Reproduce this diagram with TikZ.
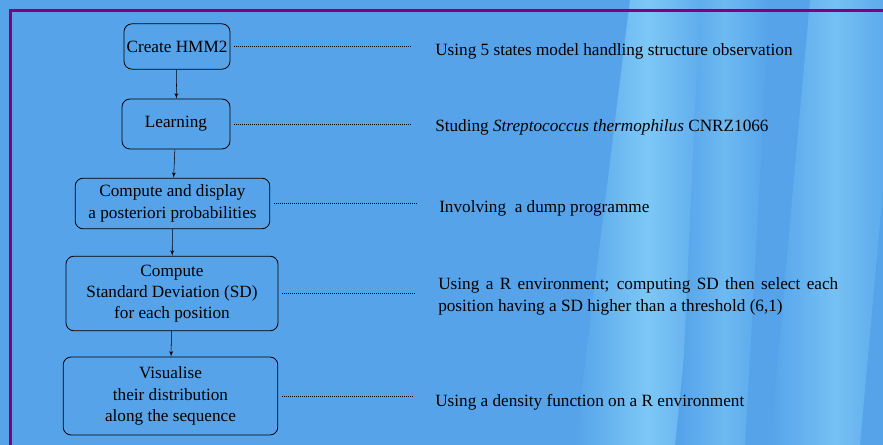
\documentclass[tikz,border=0pt]{standalone}
\usepackage{fontspec}
\setmainfont{Liberation Serif}
\usetikzlibrary{shapes,arrows,positioning}
\definecolor{bgblue}{RGB}{86,163,234}
\definecolor{stripe}{RGB}{138,212,250}
\definecolor{frame}{RGB}{128,0,128}
\tikzstyle{block} = [rectangle, draw, line width=0.6pt, align=center,
    rounded corners=6pt, inner sep=1pt, font=\fontsize{12.9}{16}\selectfont]
\tikzstyle{note} = [anchor=west, inner sep=0pt, align=left,
    font=\fontsize{12.9}{16.5}\selectfont]
\tikzstyle{line} = [draw, line width=0.4pt, -latex']
\tikzstyle{dotline} = [draw, line width=0.6pt, dash pattern=on 0.75pt off 0.75pt,
    shorten <=3pt, shorten >=17pt]
\tikzstyle{glow} = [left color=bgblue, right color=bgblue]

\begin{document}
\begin{tikzpicture}[x=0.75pt, y=-0.75pt]
		\useasboundingbox (0,0) rectangle (883,445);
		\clip (0,0) rectangle (883,445);
		% Background
		\fill [bgblue] (0,0) rectangle (883,445);
		\shade [glow, middle color=stripe!75!bgblue]
			(630,0) -- (720,0) -- (675,445) -- (575,445) -- cycle;
		\shade [glow, middle color=stripe!45!bgblue]
			(700,0) -- (770,0) -- (745,445) -- (680,445) -- cycle;
		\shade [glow, middle color=stripe!60!bgblue]
			(810,0) -- (900,0) -- (860,445) -- (770,445) -- cycle;
		\draw [frame, line width=2.3pt] (10.5,445) -- (10.5,10.5) -- (883,10.5);
		% Draw nodes
		\node [block, minimum width=79.5pt, minimum height=34pt] (hmm) at (177,46.5) {Create HMM2};
		\node [block, minimum width=81pt, minimum height=37.5pt] (learn) at (176,124) {Learning};
		\node [block, minimum width=146pt, minimum height=38pt] (post) at (172.5,203.5)
			{Compute and display\\a posteriori probabilities};
		\node [block, minimum width=159pt, minimum height=56pt] (sd) at (172,293.5)
			{Compute\\Standard Deviation (SD)\\for each position};
		\node [block, minimum width=161pt, minimum height=58.5pt] (visu) at (170.5,396)
			{Visualise\\their distribution\\along the sequence};
		\node [note] (model) at (435,51) {Using 5 states model handling structure observation};
		\node [note] (genome) at (435,127) {Studing \textit{Streptococcus thermophilus} CNRZ1066};
		\node [note] (dump) at (439,208) {Involving~ a dump programme};
		\node [note] (renv) at (438,296)
			{\makebox[300pt][s]{Using a R environment; computing SD then select each}\\
			 position having a SD higher than a threshold (6,1)};
		\node [note] (density) at (435,402) {Using a density function on a R environment};
		% Draw lines connecting (arrows)
		\path [line] (hmm) -- (learn);
		\path [line] (learn) -- (post);
		\path [line] (post) -- (sd);
		\path [line] (sd) -- (visu);
		% Dotted links to the notes
		\path [dotline] (hmm.east) -- (hmm.east -| model.west);
		\path [dotline] (learn.east) -- (learn.east -| genome.west);
		\path [dotline] (post.east) -- (post.east -| dump.west);
		\path [dotline] (sd.east) -- (sd.east -| renv.west);
		\path [dotline] (visu.east) -- (visu.east -| density.west);
	\end{tikzpicture}
\end{document}
